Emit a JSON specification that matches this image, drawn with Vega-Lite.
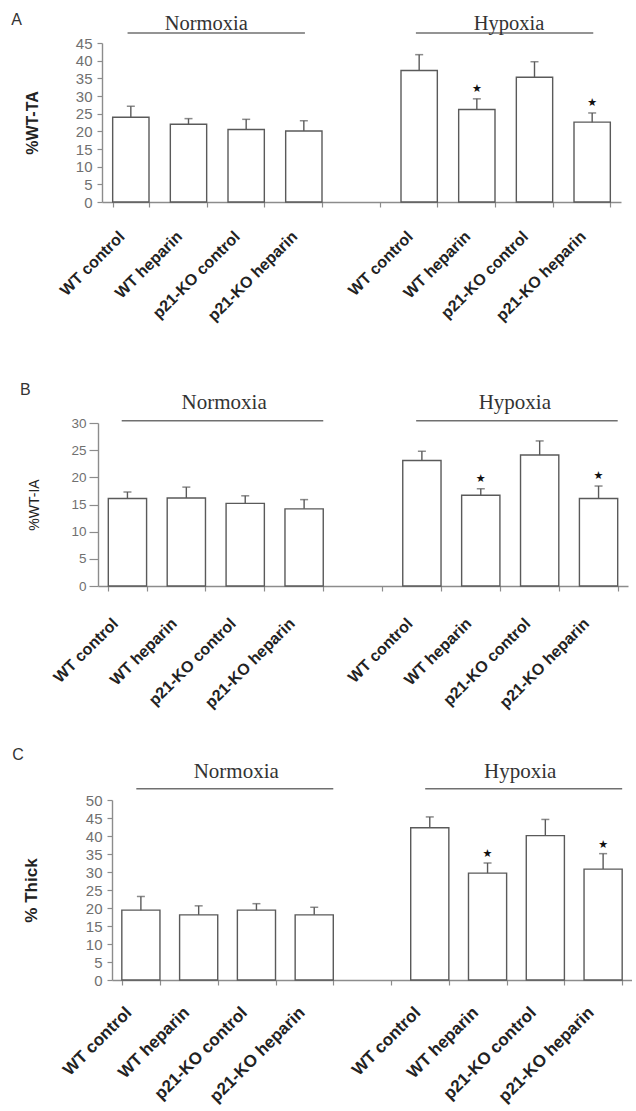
{
  "$schema": "https://vega.github.io/schema/vega-lite/v6.json",
  "background": "white",
  "padding": {"left": 11, "top": 11, "right": 0, "bottom": 0},
  "spacing": 35,
  "config": {
    "view": {"stroke": null},
    "axis": {"domainColor": "#8c8c8c", "domainWidth": 1.4, "tickColor": "#8c8c8c", "tickWidth": 1.2, "grid": false, "labelFont": "Liberation Sans", "titleFont": "Liberation Sans", "titleColor": "#222", "labelOverlap": false},
    "axisX": {"labelAngle": -45, "labelFontWeight": "bold", "labelColor": "#222", "tickBand": "extent", "tickSize": 5, "labelOffset": -4},
    "axisY": {"labelColor": "#707070", "tickSize": 5}
  },
  "datasets": {
    "A": [
      {"cond": "N|WT control", "mean": 24.0, "err": 27.1, "sig": false},
      {"cond": "N|WT heparin", "mean": 22.0, "err": 23.6, "sig": false},
      {"cond": "N|p21-KO control", "mean": 20.5, "err": 23.4, "sig": false},
      {"cond": "N|p21-KO heparin", "mean": 20.1, "err": 23.0, "sig": false},
      {"cond": "H|WT control", "mean": 37.2, "err": 41.7, "sig": false},
      {"cond": "H|WT heparin", "mean": 26.2, "err": 29.2, "sig": true},
      {"cond": "H|p21-KO control", "mean": 35.3, "err": 39.7, "sig": false},
      {"cond": "H|p21-KO heparin", "mean": 22.6, "err": 25.2, "sig": true}
    ],
    "B": [
      {"cond": "N|WT control", "mean": 16.1, "err": 17.3, "sig": false},
      {"cond": "N|WT heparin", "mean": 16.2, "err": 18.2, "sig": false},
      {"cond": "N|p21-KO control", "mean": 15.2, "err": 16.6, "sig": false},
      {"cond": "N|p21-KO heparin", "mean": 14.2, "err": 15.9, "sig": false},
      {"cond": "H|WT control", "mean": 23.1, "err": 24.8, "sig": false},
      {"cond": "H|WT heparin", "mean": 16.7, "err": 17.9, "sig": true},
      {"cond": "H|p21-KO control", "mean": 24.1, "err": 26.7, "sig": false},
      {"cond": "H|p21-KO heparin", "mean": 16.1, "err": 18.4, "sig": true}
    ],
    "C": [
      {"cond": "N|WT control", "mean": 19.4, "err": 23.2, "sig": false},
      {"cond": "N|WT heparin", "mean": 18.1, "err": 20.6, "sig": false},
      {"cond": "N|p21-KO control", "mean": 19.4, "err": 21.2, "sig": false},
      {"cond": "N|p21-KO heparin", "mean": 18.1, "err": 20.2, "sig": false},
      {"cond": "H|WT control", "mean": 42.3, "err": 45.3, "sig": false},
      {"cond": "H|WT heparin", "mean": 29.7, "err": 32.5, "sig": true},
      {"cond": "H|p21-KO control", "mean": 40.1, "err": 44.6, "sig": false},
      {"cond": "H|p21-KO heparin", "mean": 30.8, "err": 35.1, "sig": true}
    ],
    "groups": [
      {"group": "Normoxia", "from": "N|WT control", "to": "N|p21-KO heparin", "mid": "N|p21-KO control"},
      {"group": "Hypoxia", "from": "H|WT control", "to": "H|p21-KO heparin", "mid": "H|p21-KO control"}
    ]
  },
  "vconcat": [
    {
      "width": 523,
      "height": 159,
      "title": {"text": "A", "anchor": "start", "frame": "bounds", "dx": -13, "dy": 18, "font": "Liberation Sans", "fontSize": 16, "fontWeight": "normal", "color": "#333"},
      "layer": [
        {
          "data": {"name": "A"},
          "mark": {"type": "bar", "fill": "white", "stroke": "#5a5a5a", "strokeWidth": 1.4},
          "encoding": {
            "x": {"field": "cond", "type": "nominal", "title": null,
              "scale": {"domain": ["N|WT control", "N|WT heparin", "N|p21-KO control", "N|p21-KO heparin", "gap", "H|WT control", "H|WT heparin", "H|p21-KO control", "H|p21-KO heparin"], "range": [4, 523], "paddingInner": 0.37, "paddingOuter": 0.185},
              "axis": {"labelExpr": "datum.label == 'gap' ? '' : replace(replace(datum.label, 'N|', ''), 'H|', '')", "labelFontSize": 16, "labelPadding": 21, "labelOffset": -15, "minExtent": 144}},
            "y": {"field": "mean", "type": "quantitative", "title": "%WT-TA",
              "scale": {"domain": [0, 45]},
              "axis": {"values": [0, 5, 10, 15, 20, 25, 30, 35, 40, 45], "labelFontSize": 15, "labelPadding": 5, "offset": -4, "titleFontWeight": "bold", "titleFontSize": 16, "titlePadding": 35}}
          }
        },
        {
          "data": {"name": "A"},
          "mark": {"type": "rule", "stroke": "#5a5a5a", "strokeWidth": 1.4},
          "encoding": {
            "x": {"field": "cond", "type": "nominal", "title": null,
              "axis": {"labelExpr": "datum.label == 'gap' ? '' : replace(replace(datum.label, 'N|', ''), 'H|', '')", "labelFontSize": 16, "labelPadding": 21, "labelOffset": -15, "minExtent": 144}},
            "y": {"field": "mean", "type": "quantitative", "title": "%WT-TA",
              "axis": {"values": [0, 5, 10, 15, 20, 25, 30, 35, 40, 45], "labelFontSize": 15, "labelPadding": 5, "offset": -4, "titleFontWeight": "bold", "titleFontSize": 16, "titlePadding": 35}},
            "y2": {"field": "err"}
          }
        },
        {
          "data": {"name": "A"},
          "mark": {"type": "tick", "color": "#5a5a5a", "size": 8, "thickness": 1.5},
          "encoding": {
            "x": {"field": "cond", "type": "nominal", "title": null,
              "axis": {"labelExpr": "datum.label == 'gap' ? '' : replace(replace(datum.label, 'N|', ''), 'H|', '')", "labelFontSize": 16, "labelPadding": 21, "labelOffset": -15, "minExtent": 144}},
            "y": {"field": "err", "type": "quantitative", "title": "%WT-TA",
              "axis": {"values": [0, 5, 10, 15, 20, 25, 30, 35, 40, 45], "labelFontSize": 15, "labelPadding": 5, "offset": -4, "titleFontWeight": "bold", "titleFontSize": 16, "titlePadding": 35}}
          }
        },
        {
          "data": {"name": "A"},
          "transform": [{"filter": "datum.sig"}],
          "mark": {"type": "text", "text": "★", "font": "DejaVu Sans", "fontSize": 11, "color": "#111", "dy": -10, "baseline": "middle"},
          "encoding": {
            "x": {"field": "cond", "type": "nominal", "title": null,
              "axis": {"labelExpr": "datum.label == 'gap' ? '' : replace(replace(datum.label, 'N|', ''), 'H|', '')", "labelFontSize": 16, "labelPadding": 21, "labelOffset": -15, "minExtent": 144}},
            "y": {"field": "err", "type": "quantitative", "title": "%WT-TA",
              "axis": {"values": [0, 5, 10, 15, 20, 25, 30, 35, 40, 45], "labelFontSize": 15, "labelPadding": 5, "offset": -4, "titleFontWeight": "bold", "titleFontSize": 16, "titlePadding": 35}}
          }
        },
        {
          "data": {"name": "groups"},
          "mark": {"type": "rule", "stroke": "#707070", "strokeWidth": 1.5},
          "encoding": {
            "x": {"field": "from", "type": "nominal", "bandPosition": 0.41, "title": null,
              "axis": {"labelExpr": "datum.label == 'gap' ? '' : replace(replace(datum.label, 'N|', ''), 'H|', '')", "labelFontSize": 16, "labelPadding": 21, "labelOffset": -15, "minExtent": 144}},
            "x2": {"field": "to", "bandPosition": 0.53},
            "y": {"datum": 47.8, "type": "quantitative", "title": "%WT-TA",
              "axis": {"values": [0, 5, 10, 15, 20, 25, 30, 35, 40, 45], "labelFontSize": 15, "labelPadding": 5, "offset": -4, "titleFontWeight": "bold", "titleFontSize": 16, "titlePadding": 35}}
          }
        },
        {
          "data": {"name": "groups"},
          "transform": [{"filter": "datum.group == 'Normoxia'"}],
          "mark": {"type": "text", "font": "Liberation Serif", "fontSize": 20.5, "color": "#333", "baseline": "middle", "align": "center"},
          "encoding": {
            "x": {"field": "mid", "type": "nominal", "bandPosition": -0.6, "title": null,
              "axis": {"labelExpr": "datum.label == 'gap' ? '' : replace(replace(datum.label, 'N|', ''), 'H|', '')", "labelFontSize": 16, "labelPadding": 21, "labelOffset": -15, "minExtent": 144}},
            "y": {"datum": 50.4, "type": "quantitative", "title": "%WT-TA",
              "axis": {"values": [0, 5, 10, 15, 20, 25, 30, 35, 40, 45], "labelFontSize": 15, "labelPadding": 5, "offset": -4, "titleFontWeight": "bold", "titleFontSize": 16, "titlePadding": 35}},
            "text": {"field": "group"}
          }
        },
        {
          "data": {"name": "groups"},
          "transform": [{"filter": "datum.group == 'Hypoxia'"}],
          "mark": {"type": "text", "font": "Liberation Serif", "fontSize": 20.5, "color": "#333", "baseline": "middle", "align": "center"},
          "encoding": {
            "x": {"field": "mid", "type": "nominal", "bandPosition": -0.2, "title": null,
              "axis": {"labelExpr": "datum.label == 'gap' ? '' : replace(replace(datum.label, 'N|', ''), 'H|', '')", "labelFontSize": 16, "labelPadding": 21, "labelOffset": -15, "minExtent": 144}},
            "y": {"datum": 50.4, "type": "quantitative", "title": "%WT-TA",
              "axis": {"values": [0, 5, 10, 15, 20, 25, 30, 35, 40, 45], "labelFontSize": 15, "labelPadding": 5, "offset": -4, "titleFontWeight": "bold", "titleFontSize": 16, "titlePadding": 35}},
            "text": {"field": "group"}
          }
        }
      ]
    },
    {
      "width": 530,
      "height": 163,
      "title": {"text": "B", "anchor": "start", "frame": "bounds", "dx": -8, "dy": 10, "font": "Liberation Sans", "fontSize": 16, "fontWeight": "normal", "color": "#333"},
      "layer": [
        {
          "data": {"name": "B"},
          "mark": {"type": "bar", "fill": "white", "stroke": "#5a5a5a", "strokeWidth": 1.4},
          "encoding": {
            "x": {"field": "cond", "type": "nominal", "title": null,
              "scale": {"domain": ["N|WT control", "N|WT heparin", "N|p21-KO control", "N|p21-KO heparin", "gap", "H|WT control", "H|WT heparin", "H|p21-KO control", "H|p21-KO heparin"], "paddingInner": 0.35, "paddingOuter": 0.175},
              "axis": {"labelExpr": "datum.label == 'gap' ? '' : replace(replace(datum.label, 'N|', ''), 'H|', '')", "labelFontSize": 16, "labelPadding": 24, "labelOffset": -18, "minExtent": 124}},
            "y": {"field": "mean", "type": "quantitative", "title": "%WT-IA",
              "scale": {"domain": [0, 30]},
              "axis": {"values": [0, 5, 10, 15, 20, 25, 30], "labelFontSize": 13.5, "labelPadding": 3, "tickSize": 9, "titleFontWeight": "normal", "titleFontSize": 14, "titlePadding": 29}}
          }
        },
        {
          "data": {"name": "B"},
          "mark": {"type": "rule", "stroke": "#5a5a5a", "strokeWidth": 1.4},
          "encoding": {
            "x": {"field": "cond", "type": "nominal", "title": null,
              "axis": {"labelExpr": "datum.label == 'gap' ? '' : replace(replace(datum.label, 'N|', ''), 'H|', '')", "labelFontSize": 16, "labelPadding": 24, "labelOffset": -18, "minExtent": 124}},
            "y": {"field": "mean", "type": "quantitative", "title": "%WT-IA",
              "axis": {"values": [0, 5, 10, 15, 20, 25, 30], "labelFontSize": 13.5, "labelPadding": 3, "tickSize": 9, "titleFontWeight": "normal", "titleFontSize": 14, "titlePadding": 29}},
            "y2": {"field": "err"}
          }
        },
        {
          "data": {"name": "B"},
          "mark": {"type": "tick", "color": "#5a5a5a", "size": 8, "thickness": 1.5},
          "encoding": {
            "x": {"field": "cond", "type": "nominal", "title": null,
              "axis": {"labelExpr": "datum.label == 'gap' ? '' : replace(replace(datum.label, 'N|', ''), 'H|', '')", "labelFontSize": 16, "labelPadding": 24, "labelOffset": -18, "minExtent": 124}},
            "y": {"field": "err", "type": "quantitative", "title": "%WT-IA",
              "axis": {"values": [0, 5, 10, 15, 20, 25, 30], "labelFontSize": 13.5, "labelPadding": 3, "tickSize": 9, "titleFontWeight": "normal", "titleFontSize": 14, "titlePadding": 29}}
          }
        },
        {
          "data": {"name": "B"},
          "transform": [{"filter": "datum.sig"}],
          "mark": {"type": "text", "text": "★", "font": "DejaVu Sans", "fontSize": 11, "color": "#111", "dy": -10, "baseline": "middle"},
          "encoding": {
            "x": {"field": "cond", "type": "nominal", "title": null,
              "axis": {"labelExpr": "datum.label == 'gap' ? '' : replace(replace(datum.label, 'N|', ''), 'H|', '')", "labelFontSize": 16, "labelPadding": 24, "labelOffset": -18, "minExtent": 124}},
            "y": {"field": "err", "type": "quantitative", "title": "%WT-IA",
              "axis": {"values": [0, 5, 10, 15, 20, 25, 30], "labelFontSize": 13.5, "labelPadding": 3, "tickSize": 9, "titleFontWeight": "normal", "titleFontSize": 14, "titlePadding": 29}}
          }
        },
        {
          "data": {"name": "groups"},
          "mark": {"type": "rule", "stroke": "#707070", "strokeWidth": 1.5},
          "encoding": {
            "x": {"field": "from", "type": "nominal", "bandPosition": 0.35, "title": null,
              "axis": {"labelExpr": "datum.label == 'gap' ? '' : replace(replace(datum.label, 'N|', ''), 'H|', '')", "labelFontSize": 16, "labelPadding": 24, "labelOffset": -18, "minExtent": 124}},
            "x2": {"field": "to", "bandPosition": 1.0},
            "y": {"datum": 30.4, "type": "quantitative", "title": "%WT-IA",
              "axis": {"values": [0, 5, 10, 15, 20, 25, 30], "labelFontSize": 13.5, "labelPadding": 3, "tickSize": 9, "titleFontWeight": "normal", "titleFontSize": 14, "titlePadding": 29}}
          }
        },
        {
          "data": {"name": "groups"},
          "transform": [{"filter": "datum.group == 'Normoxia'"}],
          "mark": {"type": "text", "font": "Liberation Serif", "fontSize": 21, "color": "#333", "baseline": "middle", "align": "center"},
          "encoding": {
            "x": {"field": "mid", "type": "nominal", "bandPosition": -0.05, "title": null,
              "axis": {"labelExpr": "datum.label == 'gap' ? '' : replace(replace(datum.label, 'N|', ''), 'H|', '')", "labelFontSize": 16, "labelPadding": 24, "labelOffset": -18, "minExtent": 124}},
            "y": {"datum": 33.7, "type": "quantitative", "title": "%WT-IA",
              "axis": {"values": [0, 5, 10, 15, 20, 25, 30], "labelFontSize": 13.5, "labelPadding": 3, "tickSize": 9, "titleFontWeight": "normal", "titleFontSize": 14, "titlePadding": 29}},
            "text": {"field": "group"}
          }
        },
        {
          "data": {"name": "groups"},
          "transform": [{"filter": "datum.group == 'Hypoxia'"}],
          "mark": {"type": "text", "font": "Liberation Serif", "fontSize": 21, "color": "#333", "baseline": "middle", "align": "center"},
          "encoding": {
            "x": {"field": "mid", "type": "nominal", "bandPosition": -0.15, "title": null,
              "axis": {"labelExpr": "datum.label == 'gap' ? '' : replace(replace(datum.label, 'N|', ''), 'H|', '')", "labelFontSize": 16, "labelPadding": 24, "labelOffset": -18, "minExtent": 124}},
            "y": {"datum": 33.7, "type": "quantitative", "title": "%WT-IA",
              "axis": {"values": [0, 5, 10, 15, 20, 25, 30], "labelFontSize": 13.5, "labelPadding": 3, "tickSize": 9, "titleFontWeight": "normal", "titleFontSize": 14, "titlePadding": 29}},
            "text": {"field": "group"}
          }
        }
      ]
    },
    {
      "width": 534,
      "height": 180,
      "title": {"text": "C", "anchor": "start", "frame": "bounds", "dx": -10, "dy": 6, "font": "Liberation Sans", "fontSize": 16, "fontWeight": "normal", "color": "#333"},
      "layer": [
        {
          "data": {"name": "C"},
          "mark": {"type": "bar", "fill": "white", "stroke": "#5a5a5a", "strokeWidth": 1.4},
          "encoding": {
            "x": {"field": "cond", "type": "nominal", "title": null,
              "scale": {"domain": ["N|WT control", "N|WT heparin", "N|p21-KO control", "N|p21-KO heparin", "gap", "H|WT control", "H|WT heparin", "H|p21-KO control", "H|p21-KO heparin"], "range": [14, 534], "paddingInner": 0.34, "paddingOuter": 0.17},
              "axis": {"labelExpr": "datum.label == 'gap' ? '' : replace(replace(datum.label, 'N|', ''), 'H|', '')", "labelFontSize": 17, "labelPadding": 19, "labelOffset": -18}},
            "y": {"field": "mean", "type": "quantitative", "title": "% Thick",
              "scale": {"domain": [0, 50]},
              "axis": {"values": [0, 5, 10, 15, 20, 25, 30, 35, 40, 45, 50], "labelFontSize": 15, "labelPadding": 5, "offset": -14, "titleFontWeight": "bold", "titleFontSize": 17, "titlePadding": 45}}
          }
        },
        {
          "data": {"name": "C"},
          "mark": {"type": "rule", "stroke": "#5a5a5a", "strokeWidth": 1.4},
          "encoding": {
            "x": {"field": "cond", "type": "nominal", "title": null,
              "axis": {"labelExpr": "datum.label == 'gap' ? '' : replace(replace(datum.label, 'N|', ''), 'H|', '')", "labelFontSize": 17, "labelPadding": 19, "labelOffset": -18}},
            "y": {"field": "mean", "type": "quantitative", "title": "% Thick",
              "axis": {"values": [0, 5, 10, 15, 20, 25, 30, 35, 40, 45, 50], "labelFontSize": 15, "labelPadding": 5, "offset": -14, "titleFontWeight": "bold", "titleFontSize": 17, "titlePadding": 45}},
            "y2": {"field": "err"}
          }
        },
        {
          "data": {"name": "C"},
          "mark": {"type": "tick", "color": "#5a5a5a", "size": 8, "thickness": 1.5},
          "encoding": {
            "x": {"field": "cond", "type": "nominal", "title": null,
              "axis": {"labelExpr": "datum.label == 'gap' ? '' : replace(replace(datum.label, 'N|', ''), 'H|', '')", "labelFontSize": 17, "labelPadding": 19, "labelOffset": -18}},
            "y": {"field": "err", "type": "quantitative", "title": "% Thick",
              "axis": {"values": [0, 5, 10, 15, 20, 25, 30, 35, 40, 45, 50], "labelFontSize": 15, "labelPadding": 5, "offset": -14, "titleFontWeight": "bold", "titleFontSize": 17, "titlePadding": 45}}
          }
        },
        {
          "data": {"name": "C"},
          "transform": [{"filter": "datum.sig"}],
          "mark": {"type": "text", "text": "★", "font": "DejaVu Sans", "fontSize": 11, "color": "#111", "dy": -9, "baseline": "middle"},
          "encoding": {
            "x": {"field": "cond", "type": "nominal", "title": null,
              "axis": {"labelExpr": "datum.label == 'gap' ? '' : replace(replace(datum.label, 'N|', ''), 'H|', '')", "labelFontSize": 17, "labelPadding": 19, "labelOffset": -18}},
            "y": {"field": "err", "type": "quantitative", "title": "% Thick",
              "axis": {"values": [0, 5, 10, 15, 20, 25, 30, 35, 40, 45, 50], "labelFontSize": 15, "labelPadding": 5, "offset": -14, "titleFontWeight": "bold", "titleFontSize": 17, "titlePadding": 45}}
          }
        },
        {
          "data": {"name": "groups"},
          "mark": {"type": "rule", "stroke": "#707070", "strokeWidth": 1.5},
          "encoding": {
            "x": {"field": "from", "type": "nominal", "bandPosition": 0.38, "title": null,
              "axis": {"labelExpr": "datum.label == 'gap' ? '' : replace(replace(datum.label, 'N|', ''), 'H|', '')", "labelFontSize": 17, "labelPadding": 19, "labelOffset": -18}},
            "x2": {"field": "to", "bandPosition": 1.0},
            "y": {"datum": 53.1, "type": "quantitative", "title": "% Thick",
              "axis": {"values": [0, 5, 10, 15, 20, 25, 30, 35, 40, 45, 50], "labelFontSize": 15, "labelPadding": 5, "offset": -14, "titleFontWeight": "bold", "titleFontSize": 17, "titlePadding": 45}}
          }
        },
        {
          "data": {"name": "groups"},
          "transform": [{"filter": "datum.group == 'Normoxia'"}],
          "mark": {"type": "text", "font": "Liberation Serif", "fontSize": 21, "color": "#333", "baseline": "middle", "align": "center"},
          "encoding": {
            "x": {"field": "mid", "type": "nominal", "bandPosition": -0.03, "title": null,
              "axis": {"labelExpr": "datum.label == 'gap' ? '' : replace(replace(datum.label, 'N|', ''), 'H|', '')", "labelFontSize": 17, "labelPadding": 19, "labelOffset": -18}},
            "y": {"datum": 57.8, "type": "quantitative", "title": "% Thick",
              "axis": {"values": [0, 5, 10, 15, 20, 25, 30, 35, 40, 45, 50], "labelFontSize": 15, "labelPadding": 5, "offset": -14, "titleFontWeight": "bold", "titleFontSize": 17, "titlePadding": 45}},
            "text": {"field": "group"}
          }
        },
        {
          "data": {"name": "groups"},
          "transform": [{"filter": "datum.group == 'Hypoxia'"}],
          "mark": {"type": "text", "font": "Liberation Serif", "fontSize": 21, "color": "#333", "baseline": "middle", "align": "center"},
          "encoding": {
            "x": {"field": "mid", "type": "nominal", "bandPosition": -0.16, "title": null,
              "axis": {"labelExpr": "datum.label == 'gap' ? '' : replace(replace(datum.label, 'N|', ''), 'H|', '')", "labelFontSize": 17, "labelPadding": 19, "labelOffset": -18}},
            "y": {"datum": 57.8, "type": "quantitative", "title": "% Thick",
              "axis": {"values": [0, 5, 10, 15, 20, 25, 30, 35, 40, 45, 50], "labelFontSize": 15, "labelPadding": 5, "offset": -14, "titleFontWeight": "bold", "titleFontSize": 17, "titlePadding": 45}},
            "text": {"field": "group"}
          }
        }
      ]
    }
  ]
}
